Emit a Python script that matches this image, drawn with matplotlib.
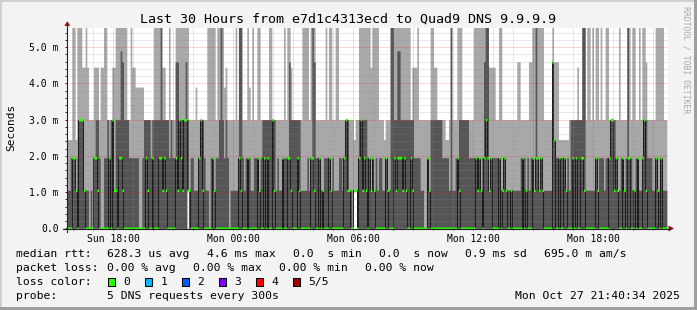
import numpy as np
import matplotlib
matplotlib.use('Agg')
import matplotlib.pyplot as plt
import matplotlib.dates as mdates
from matplotlib.ticker import MultipleLocator, FuncFormatter
from matplotlib.patches import Rectangle, Polygon
from datetime import datetime, timedelta

plt.rcParams['font.family'] = 'DejaVu Sans Mono'

title = 'Last 30 Hours from e7d1c4313ecd to Quad9 DNS 9.9.9.9'
end_time = datetime(2025, 10, 27, 21, 40, 34)
first_step = datetime(2025, 10, 26, 15, 40)
step = timedelta(minutes=5)

# rtt levels in ms, one char per ping (5 pings, sorted low -> high)
levels = {'0': 0.0, '1': 1.05, '2': 1.95, 'a': 2.45, '3': 3.0, 'b': 3.9,
          '4': 4.45, 'd': 4.6, 'c': 4.9, '5': 5.8}

pings_sun = """
0001a 0001a 0002a 00225 00225 0011a 00025 00335 00335 00334
00114 00015 00014 00003 00013 00003 00224 00234 00134 00023
00004 00004 00025 00025 00033 00223 00033 00334 00114 00135
00035 00235 002c5 001d5 00035 00035 00033 00023 00025 00024
00024 0002b 0002b 0000b 0000b 0002b 00033 00233 00133 00033
00023 00233 00035 00035 00035 00235 00255 00134 00234 00133
00033 00025 00033 00023 00023 002d5 001d5 00335 00235 00135
00335 003d5 11135 00113 00023 00023 00013 0001b 00013 00223
00333 00133 00023 00013 00015 00005 00025 00225 00115 00023
00025 00035 00055 00035 0002b 00034 00023 00003 00013 00013
00013 00015 00013 00255 00155 00023 00013 00023 00225 0002b
00013 00015 00023 00023 00225 00115 00023 00033 00233 00033
"""

pings_night = """
00233 00035 00035 00333 00133 00013 00023 00013 00013 00223
00025 00023 00225 002d5 00134 00033 00033 00033 00233 00133
00013 00015 00015 00015 00025 00013 00225 00255 001d5 00023
00023 00223 00013 00113 00023 00025 00023 00225 00115 00023
00013 00015 00015 00023 00023 00013 00223 00333 00133 00113
00013 00003 1111a 11113 00013 00235 00335 00135 00235 00135
00025 00225 00114 00225 00115 00025 00015 00023 00023 00013
0001a 00223 00113 00013 00055 00055 00235 00135 002c5 002c5
00235 00135 00235 00135 00035 00035 00233 00134 00024 00024
00025 00023 00013 00013 00003 00003 00223 00113 00035 00035
00034 00034 00033 00033 00033 00023 00023 0002a 0002a 00013
00055 00013 00013 00023 00225 00135 00035 00033 00033 00033
"""

pings_mon = """
00033 00023 00023 00023 00025 00225 00115 00225 00115 00025
002d5 00355 00255 00114 00224 00024 00024 00023 00023 00225
00015 00113 00223 00113 00013 00013 00113 00013 00013 00013
0001d 0001d 00023 00223 00023 00113 00023 0001d 0002d 00225
00115 00255 00225 00115 00225 00115 00013 00013 00013 00013
00013 00dd5 00aad 0002d 0002d 0022a 0002a 0002a 0022a 0011a
0002a 00013 00033 00233 00033 00233 00034 00033 00233 00255
00155 00013 00015 00015 00013 00015 00013 00225 00115 00023
00025 00023 00013 00025 00025 00223 00333 00333 00133 00223
00113 00015 00023 00223 00113 00023 00255 00225 00023 00015
00115 00023 00223 00015 00013 00225 00335 0013d 00023 00023
00023 00013 00013 00225 00115 00015 00225 00015 00013 00013
"""

rtt_stats = ['628.3 us avg', '4.6 ms max', '0.0  s min', '0.0  s now',
             '0.9 ms sd', '695.0 m am/s']
loss_stats = ['0.00 % avg', '0.00 % max', '0.00 % min', '0.00 % now']
loss_labels = ['0', '1', '2', '3', '4', '5/5']
loss_colors = ['#26ff00', '#00b8ff', '#0059ff', '#7e00ff', '#ff0000', '#a10000']
probe_text = '5 DNS requests every 300s'

tokens = (pings_sun + pings_night + pings_mon).split()
pings = np.array([[levels[c] for c in tok] for tok in tokens]) * 1e-3
n = len(pings)
print('steps:', n)

t = [first_step + i * step for i in range(n + 1)]
ext = np.vstack([pings, pings[-1:]])
p1, p2, med, p4, p5 = ext.T

W, H = 697, 310
fig = plt.figure(figsize=(W / 100, H / 100), dpi=100, facecolor='#f3f3f3')

ymax = 5.54e-3
ax = fig.add_axes([67 / W, (H - 228.3) / H, 601 / W, 200.6 / H])
ax.set_facecolor('white')
left = end_time - timedelta(hours=30)
ax.set_xlim(left, left + timedelta(minutes=3 * 601))
ax.set_ylim(0, ymax)

ax.fill_between(t, p1, p5, step='post', color='#a8a8a8', lw=0)
ax.fill_between(t, p2, p4, step='post', color='#565656', lw=0)
ax.step(t, med, where='post', color='#1c1c1c', lw=0.75)
h = ymax / 200.6 * 1.3
ax.fill_between(t, med - h, med + h, step='post', color=loss_colors[0], lw=0,
                zorder=3)

ax.yaxis.set_major_locator(MultipleLocator(1e-3))
ax.yaxis.set_minor_locator(MultipleLocator(0.2e-3))
ax.yaxis.set_major_formatter(FuncFormatter(
    lambda v, p: '0.0' if abs(v) < 1e-9 else f'{v * 1e3:.1f} m'))
ax.xaxis.set_major_locator(mdates.HourLocator(byhour=range(0, 24, 3)))
ax.xaxis.set_minor_locator(mdates.HourLocator())


def xlab(v, p):
    d = mdates.num2date(v)
    return d.strftime('%a %H:%M') if d.hour % 6 == 0 else ''


ax.xaxis.set_major_formatter(FuncFormatter(xlab))

ax.set_axisbelow(False)
ax.grid(which='major', color='#ff0000', alpha=0.33, lw=0.72, ls=(0, (1, 1)))
ax.grid(which='minor', color='#8c8c8c', alpha=0.4, lw=0.72, ls=(0, (1, 1)))
ax.tick_params(which='both', direction='out', length=1.6, width=0.72,
               color='#303030', labelsize=7)
ax.tick_params(axis='x', pad=2.2)
ax.tick_params(axis='y', pad=4.3)
for s in ax.spines.values():
    s.set_visible(False)

# overlay in pixel coordinates for frame, axes arrows and legend
ov = fig.add_axes([0, 0, 1, 1])
ov.set_xlim(0, W)
ov.set_ylim(H, 0)
ov.axis('off')
ov.patch.set_alpha(0)

ov.add_patch(Rectangle((0, 0), W, 1.5, color='#d0d0d0', lw=0))
ov.add_patch(Rectangle((0, 0), 1.5, H, color='#d0d0d0', lw=0))
ov.add_patch(Rectangle((W - 3, 0), 3, H, color='#9e9e9e', lw=0))
ov.add_patch(Rectangle((0, H - 3), W, 3, color='#9e9e9e', lw=0))

ov.plot([63, 669], [228.5, 228.5], color='#202020', lw=0.8)
ov.plot([67.3, 67.3], [232, 25], color='#202020', lw=0.8)
ov.add_patch(Polygon([(64.3, 25.8), (70.3, 25.8), (67.3, 21.3)], color='#8b1010', lw=0))
ov.add_patch(Polygon([(668.5, 225.5), (668.5, 231.5), (674, 228.5)], color='#8b1010', lw=0))

ov.text(348.5, 19.5, title, ha='center', va='center', size=9.6)
ov.text(11, 127, 'Seconds', rotation=90, ha='center', va='center', size=8)
ov.text(686, 60, 'RRDTOOL / TOBI OETIKER', rotation=270, ha='center',
        va='center', size=5.9, color='#aaaaaa')

fs = 8.2
rows = [254, 268.3, 282, 296.3]
ov.text(16, rows[0], 'median rtt:', va='center', size=fs)
for s, x in zip(rtt_stats, [107.3, 206.7, 293.3, 379.3, 465, 544]):
    ov.text(x, rows[0], s, va='center', size=fs)
ov.text(16, rows[1], 'packet loss:', va='center', size=fs)
for s, x in zip(loss_stats, [107.3, 193.3, 279.3, 365]):
    ov.text(x, rows[1], s, va='center', size=fs)
ov.text(16, rows[2], 'loss color:', va='center', size=fs)
for i, (lab, col) in enumerate(zip(loss_labels, loss_colors)):
    x = 108.3 + 37 * i
    ov.add_patch(Rectangle((x, 278.3), 7, 7.6, facecolor=col,
                           edgecolor='black', lw=0.75))
    ov.text(x + 15, rows[2], lab, va='center', size=fs)
ov.text(16, rows[3], 'probe:', va='center', size=fs)
ov.text(107.3, rows[3], probe_text, va='center', size=fs)
ov.text(680, rows[3], end_time.strftime('%a %b %d %H:%M:%S %Y'),
        ha='right', va='center', size=fs)

fig.savefig('out.png', dpi=100, facecolor=fig.get_facecolor())
